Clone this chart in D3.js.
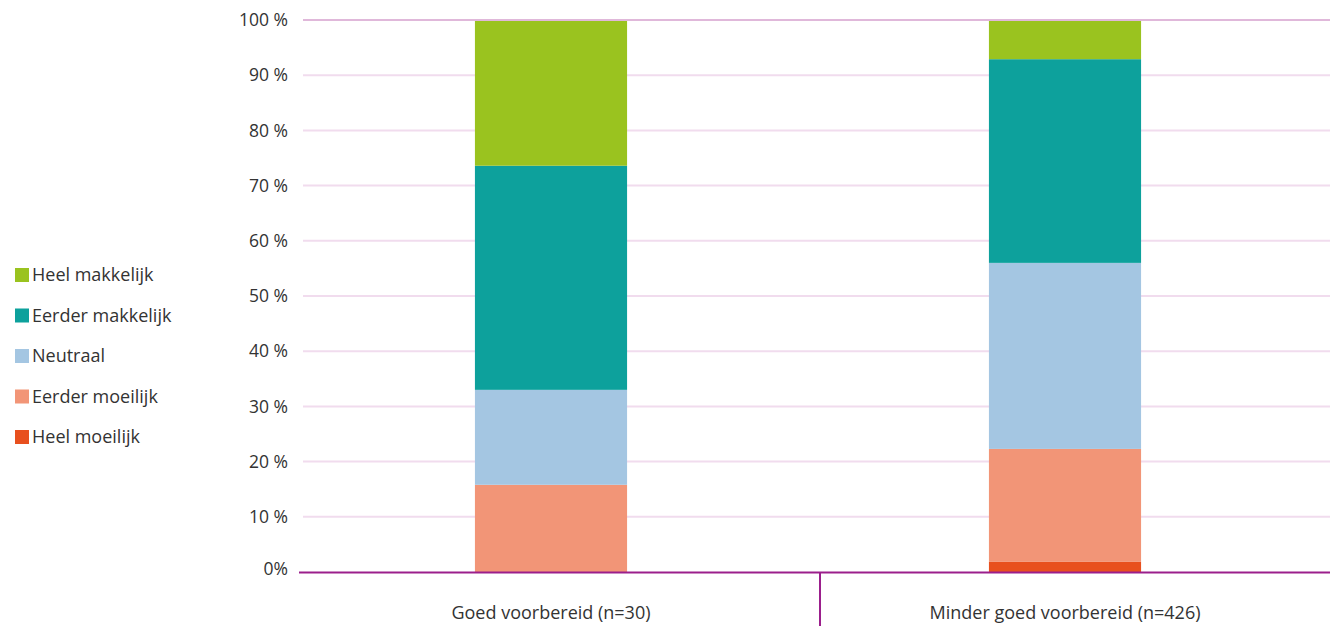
<!DOCTYPE html>
<html><head><meta charset="utf-8">
<script src="https://cdn.jsdelivr.net/npm/d3@7"></script>
<style>body{margin:0;background:#fff;}svg{display:block;font-family:"Open Sans",sans-serif;}</style>
</head><body>
<svg id="chart" width="1330" height="626"></svg>
<script>
const categories = ["Goed voorbereid (n=30)", "Minder goed voorbereid (n=426)"];
const seriesNames = ["Heel moeilijk", "Eerder moeilijk", "Neutraal", "Eerder makkelijk", "Heel makkelijk"];
const heelMoeilijk    = [0.0, 1.9];
const eerderMoeilijk  = [15.8, 20.4];
const neutraal        = [17.2, 33.7];
const eerderMakkelijk = [40.6, 36.9];
const heelMakkelijk   = [26.4, 7.1];
const tickValues = [0,10,20,30,40,50,60,70,80,90,100];
const tickLabels = ["0%","10 %","20 %","30 %","40 %","50 %","60 %","70 %","80 %","90 %","100 %"];
const colors = ["#e8501e","#f29577","#a4c6e2","#0da19c","#9ac31f"];

const seriesValues = [heelMoeilijk, eerderMoeilijk, neutraal, eerderMakkelijk, heelMakkelijk];
const rows = categories.map((c,i)=>{const r={cat:c}; seriesNames.forEach((s,j)=>r[s]=seriesValues[j][i]); return r;});
const stack = d3.stack().keys(seriesNames)(rows);

const svg = d3.select("#chart");
const y = d3.scaleLinear().domain([0,100]).range([572,20]);
const x = d3.scaleBand().domain(categories).range([294,1322]).paddingInner(0.704).paddingOuter(0.352);
const color = d3.scaleOrdinal().domain(seriesNames).range(colors);

// gridlines
svg.append("g").selectAll("line").data(tickValues.filter(v=>v>0)).join("line")
  .attr("x1",303).attr("x2",1330)
  .attr("y1",d=>y(d)).attr("y2",d=>y(d))
  .attr("stroke",d=>d===100?"#e0b8da":"#f1dcee").attr("stroke-width",2);

// y labels
svg.append("g").selectAll("text").data(tickValues).join("text")
  .attr("x",288).attr("y",d=>y(d)+(d===0?-3:0)).attr("dy","0.35em")
  .attr("text-anchor","end").attr("font-size",17.5).attr("fill","#333")
  .text((d,i)=>tickLabels[i]);

// bars
svg.append("g").selectAll("g").data(stack).join("g")
  .attr("fill",d=>color(d.key))
  .selectAll("rect").data(d=>d).join("rect")
  .attr("x",d=>x(d.data.cat)).attr("width",x.bandwidth())
  .attr("y",d=>y(d[1])+(d[1]>=100?1:0)).attr("height",d=>y(d[0])-y(d[1])-(d[1]>=100?1:0));

// baseline + divider
svg.append("line").attr("x1",299).attr("x2",1330).attr("y1",y(0)+0.5).attr("y2",y(0)+0.5)
  .attr("stroke","#9b1f8c").attr("stroke-width",2);
svg.append("line").attr("x1",820).attr("x2",820).attr("y1",y(0)).attr("y2",626)
  .attr("stroke","#9b1f8c").attr("stroke-width",2);

// category labels
svg.append("g").selectAll("text").data(categories).join("text")
  .attr("x",d=>x(d)+x.bandwidth()/2).attr("y",613).attr("dy","0.35em")
  .attr("text-anchor","middle").attr("font-size",18).attr("fill","#333").text(d=>d);

// legend
const legendOrder = seriesNames.slice().reverse();
const lg = svg.append("g").selectAll("g").data(legendOrder).join("g")
  .attr("transform",(d,i)=>`translate(15,${275+i*40.5})`);
lg.append("rect").attr("x",0).attr("y",-7).attr("width",14).attr("height",14).attr("fill",d=>color(d));
lg.append("text").attr("x",17).attr("y",0).attr("dy","0.35em").attr("font-size",18).attr("fill","#333").text(d=>d);
</script>
</body></html>
